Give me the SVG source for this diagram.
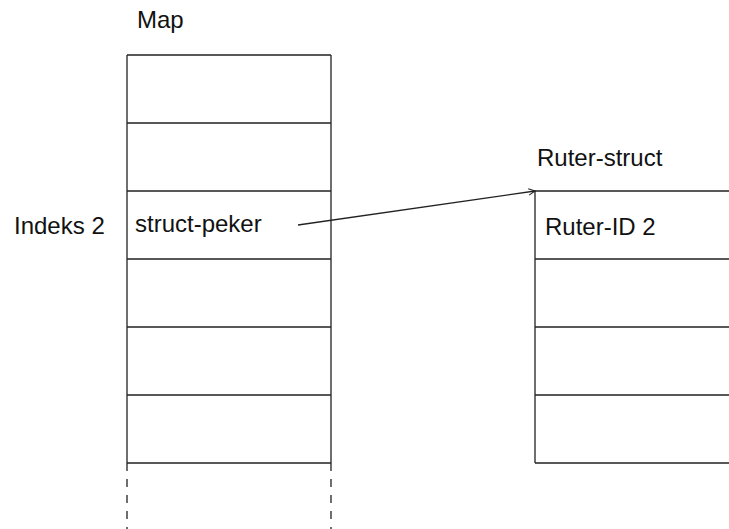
<svg xmlns="http://www.w3.org/2000/svg" width="729" height="529" viewBox="0 0 729 529">
<defs>
<style>
.ln{stroke:#222;stroke-width:1.3;fill:none}
.dash{stroke:#222;stroke-width:1.3;fill:none;stroke-dasharray:8 8}
text{font-family:"Liberation Sans",Arial,sans-serif;font-size:24px;fill:#111}
</style>
<marker id="arr" viewBox="0 0 10 10" refX="9" refY="5" markerWidth="8" markerHeight="8" markerUnits="userSpaceOnUse" orient="auto">
<path d="M1,1 L9,5 L1,9" fill="none" stroke="#222" stroke-width="1.3"/>
</marker>
</defs>
<rect width="729" height="529" fill="#fff"/>
<g id="map">
<text x="137" y="28">Map</text>
<path class="ln" d="M127,55 H331 M127,123 H331 M127,191 H331 M127,259 H331 M127,327 H331 M127,395 H331 M127,463 H331 M127,55 V463 M331,55 V463"/>
<path class="dash" d="M127,463 V529 M331,463 V529"/>
<text x="14" y="234">Indeks 2</text>
<text x="135" y="232">struct-peker</text>
</g>
<g id="ruter">
<text x="537" y="166">Ruter-struct</text>
<path class="ln" d="M535,191 H729 M535,259 H729 M535,327 H729 M535,395 H729 M535,463 H729 M535,191 V463"/>
<text x="545" y="235">Ruter-ID 2</text>
</g>
<g id="connectors">
<line class="ln" x1="298" y1="225" x2="535" y2="191" marker-end="url(#arr)"/>
</g>
</svg>
